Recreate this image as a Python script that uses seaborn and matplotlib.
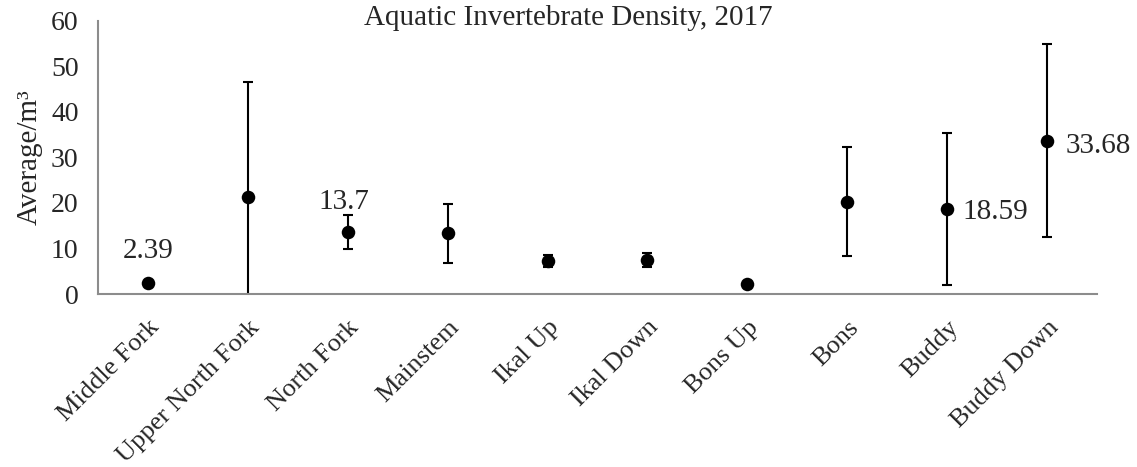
import numpy as np
import pandas as pd
import seaborn as sns
import matplotlib.pyplot as plt
from matplotlib.ticker import FixedLocator

# valores
sites = ["Middle Fork", "Upper North Fork", "North Fork", "Mainstem", "Ikal Up",
         "Ikal Down", "Bons Up", "Bons", "Buddy", "Buddy Down"]
medias = [2.39, 21.36, 13.7, 13.3, 7.25, 7.45, 2.27, 20.3, 18.59, 33.68]
erros = [0.0, 25.1, 3.75, 6.4, 1.4, 1.6, 0.0, 12.0, 16.7, 21.25]

# rótulos que aparecem no gráfico: (índice, texto, deslocamento, alinhamento)
rotulos = [(0, "2.39", (0, 23), "center"),
           (2, "13.7", (-3, 21), "center"),
           (8, "18.59", (11, -2), "left"),
           (9, "33.68", (13, -4), "left")]

tabela = pd.DataFrame({"site": sites, "media": medias, "erro": erros})

sns.set_style("white")
plt.rcParams["font.family"] = ["Liberation Serif", "DejaVu Serif"]

fig = plt.figure(figsize=(11.37, 4.67), dpi=100)
ax = fig.add_axes([0.0862, 0.3704, 0.8786, 0.5853])

cinza = "#8c8c8c"

ax.errorbar(tabela.index, tabela["media"], yerr=tabela["erro"], fmt="none",
            ecolor="black", elinewidth=1.5, capsize=3.8, capthick=1.5, zorder=2)
sns.scatterplot(data=tabela, x=tabela.index, y="media", color="black", s=95,
                edgecolor="black", linewidth=0, ax=ax, zorder=3)

for i, txt, off, ha in rotulos:
    ax.annotate(txt, (i, medias[i]), xytext=off, textcoords="offset points",
                ha=ha, va="center", fontsize=21)

ax.set_xlim(-0.5, len(sites) - 0.5)
ax.set_ylim(0, 60)
ax.set_yticks(range(0, 61, 10))
ax.set_xticks(range(len(sites)))
ax.set_xticklabels(sites, rotation=45, ha="right", rotation_mode="anchor", fontsize=19)
ax.xaxis.set_minor_locator(FixedLocator(np.arange(-0.5, len(sites), 1)))
ax.tick_params(axis="x", which="major", length=0, pad=16)
ax.tick_params(axis="x", which="minor", length=6, width=1.2, color=cinza, direction="out")
ax.tick_params(axis="y", length=6, width=1.2, color=cinza, direction="out",
               labelsize=20, pad=8)

for lado in ["top", "right"]:
    ax.spines[lado].set_visible(False)
for lado in ["left", "bottom"]:
    ax.spines[lado].set_color(cinza)
    ax.spines[lado].set_linewidth(1.5)

ax.set_xlabel("")
ax.set_ylabel("Average/m³", fontsize=21, labelpad=6)
fig.text(0.5, 0.962, "Aquatic Invertebrate Density, 2017", ha="center", va="center",
         fontsize=21)

fig.savefig("out.png", dpi=100)
